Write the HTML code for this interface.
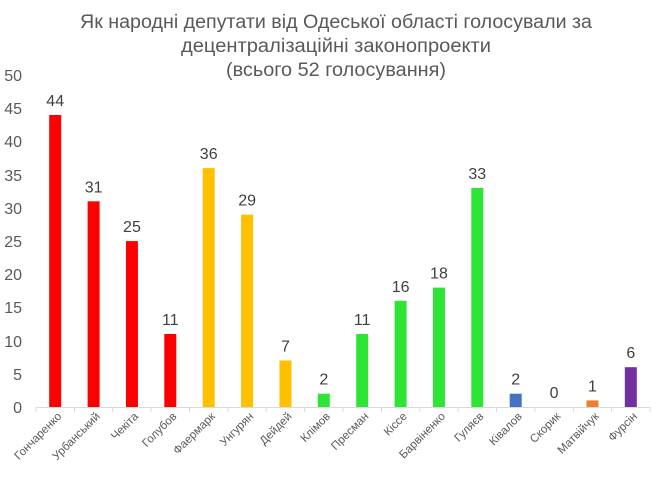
<!DOCTYPE html>
<html><head><meta charset="utf-8"><style>body{margin:0;background:#fff}svg{display:block}</style></head>
<body>
<svg width="672" height="497" xmlns="http://www.w3.org/2000/svg" font-family="Liberation Sans, sans-serif">
<g fill="#595959" font-size="19" text-anchor="middle">
<text x="336" y="28" textLength="512" lengthAdjust="spacingAndGlyphs">Як народні депутати від Одеської області голосували за</text>
<text x="336" y="52" textLength="310" lengthAdjust="spacingAndGlyphs">децентралізаційні законопроекти</text>
<text x="336" y="76" textLength="220" lengthAdjust="spacingAndGlyphs">(всього 52 голосування)</text>
</g>
<g fill="#595959" font-size="16" text-anchor="end">
<text x="22" y="81">50</text><text x="22" y="114">45</text><text x="22" y="147">40</text><text x="22" y="181">35</text><text x="22" y="214">30</text><text x="22" y="247">25</text><text x="22" y="280">20</text><text x="22" y="313">15</text><text x="22" y="347">10</text><text x="22" y="380">5</text><text x="22" y="413">0</text>
</g>
<line x1="36" y1="407.5" x2="650" y2="407.5" stroke="#d9d9d9"/>
<g stroke="#d9d9d9">
<line x1="36" y1="407" x2="36" y2="412"/><line x1="74.4" y1="407" x2="74.4" y2="412"/><line x1="112.75" y1="407" x2="112.75" y2="412"/><line x1="151.1" y1="407" x2="151.1" y2="412"/><line x1="189.5" y1="407" x2="189.5" y2="412"/><line x1="227.9" y1="407" x2="227.9" y2="412"/><line x1="266.25" y1="407" x2="266.25" y2="412"/><line x1="304.6" y1="407" x2="304.6" y2="412"/><line x1="343" y1="407" x2="343" y2="412"/><line x1="381.4" y1="407" x2="381.4" y2="412"/><line x1="419.75" y1="407" x2="419.75" y2="412"/><line x1="458.1" y1="407" x2="458.1" y2="412"/><line x1="496.5" y1="407" x2="496.5" y2="412"/><line x1="534.9" y1="407" x2="534.9" y2="412"/><line x1="573.25" y1="407" x2="573.25" y2="412"/><line x1="611.6" y1="407" x2="611.6" y2="412"/><line x1="650" y1="407" x2="650" y2="412"/>
</g>
<g>
<rect x="49.2" y="115" width="12" height="292" fill="#ff0000"/>
<rect x="87.6" y="201.3" width="12" height="205.7" fill="#ff0000"/>
<rect x="125.95" y="241.1" width="12" height="165.9" fill="#ff0000"/>
<rect x="164.3" y="334" width="12" height="73" fill="#ff0000"/>
<rect x="202.7" y="168.1" width="12" height="238.9" fill="#ffc000"/>
<rect x="241.1" y="214.6" width="12" height="192.4" fill="#ffc000"/>
<rect x="279.45" y="360.5" width="12" height="46.5" fill="#ffc000"/>
<rect x="317.8" y="393.7" width="12" height="13.3" fill="#2ee535"/>
<rect x="356.2" y="334" width="12" height="73" fill="#2ee535"/>
<rect x="394.6" y="300.8" width="12" height="106.2" fill="#2ee535"/>
<rect x="432.95" y="287.6" width="12" height="119.4" fill="#2ee535"/>
<rect x="471.3" y="188" width="12" height="219" fill="#2ee535"/>
<rect x="509.7" y="393.7" width="12" height="13.3" fill="#4472c4"/>
<rect x="586.45" y="400.4" width="12" height="6.6" fill="#ed7d31"/>
<rect x="624.8" y="367.2" width="12" height="39.8" fill="#7030a0"/>
</g>
<g font-size="16" fill="#404040" text-anchor="middle">
<text x="55.2" y="106">44</text>
<text x="93.6" y="192.3">31</text>
<text x="131.95" y="232.1">25</text>
<text x="170.3" y="325">11</text>
<text x="208.7" y="159.1">36</text>
<text x="247.1" y="205.6">29</text>
<text x="285.45" y="351.5">7</text>
<text x="323.8" y="384.7">2</text>
<text x="362.2" y="325">11</text>
<text x="400.6" y="291.8">16</text>
<text x="438.95" y="278.6">18</text>
<text x="477.3" y="179">33</text>
<text x="515.7" y="384.7">2</text>
<text x="554.1" y="398">0</text>
<text x="592.45" y="391.4">1</text>
<text x="630.8" y="358.2">6</text>
</g>
<g font-size="11.5" fill="#595959" text-anchor="end">
<text transform="translate(62.2,417) rotate(-45)">Гончаренко</text>
<text transform="translate(100.6,417) rotate(-45)">Урбанський</text>
<text transform="translate(138.95,417) rotate(-45)">Чекіта</text>
<text transform="translate(177.3,417) rotate(-45)">Голубов</text>
<text transform="translate(215.7,417) rotate(-45)">Фаермарк</text>
<text transform="translate(254.1,417) rotate(-45)">Унгурян</text>
<text transform="translate(292.45,417) rotate(-45)">Дейдей</text>
<text transform="translate(330.8,417) rotate(-45)">Клімов</text>
<text transform="translate(369.2,417) rotate(-45)">Пресман</text>
<text transform="translate(407.6,417) rotate(-45)">Кіссе</text>
<text transform="translate(445.95,417) rotate(-45)">Барвіненко</text>
<text transform="translate(484.3,417) rotate(-45)">Гуляєв</text>
<text transform="translate(522.7,417) rotate(-45)">Ківалов</text>
<text transform="translate(561.1,417) rotate(-45)">Скорик</text>
<text transform="translate(599.45,417) rotate(-45)">Матвійчук</text>
<text transform="translate(637.8,417) rotate(-45)">Фурсін</text>
</g>
</svg>
</body></html>
